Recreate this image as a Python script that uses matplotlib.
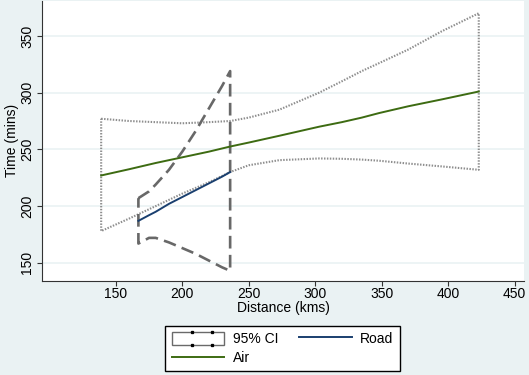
import numpy as np
import matplotlib.pyplot as plt
from matplotlib.patches import Patch, Rectangle
from matplotlib.lines import Line2D
from matplotlib.legend_handler import HandlerBase

plt.rcParams['font.family'] = ['Liberation Sans', 'DejaVu Sans']

# Air: fitted line and 95% CI
air_x = [139, 160, 180, 200, 220, 236, 250, 273, 303, 320, 335, 348, 370, 395, 423]
air_fit = [227, 232.5, 238, 243, 248, 252.5, 256, 262, 270, 274, 278, 282, 288, 294, 301]
air_hi = [277, 275, 274, 273, 274, 275, 278, 285, 300, 310, 319, 326, 338, 354, 370]
air_lo = [178, 189, 200, 211, 221, 230, 236, 240.5, 242, 241.7, 241, 240, 237.5, 235, 232]

# Road: fitted line and 95% CI
road_x = [167, 175, 180, 190, 200, 210, 220, 230, 236]
road_fit = [187, 192, 195, 202, 208, 214, 220, 226, 230]
road_hi = [207, 213, 219, 232, 248, 266, 286, 306, 319]
road_lo = [167, 172, 172, 168, 163, 158, 152, 146, 143]

bg = '#eaf2f3'
ci_grey = '#8e8e8e'
road_ci_grey = '#686868'
air_col = '#3d6b12'
road_col = '#1a3f6f'


class CIHandler(HandlerBase):
    def create_artists(self, legend, orig_handle, xd, yd, w, h, fontsize, trans):
        rect = Rectangle((-xd, -yd), w, h, facecolor='white', edgecolor='#6a6a6a',
                         linewidth=1.0, transform=trans)
        fx = [0.38, 0.76, 0.38, 0.76]
        fy = [1, 1, 0, 0]
        dots = Line2D([-xd + f * w for f in fx], [-yd + f * h for f in fy],
                      linestyle='none', marker='s', markersize=1.4,
                      color='black', transform=trans)
        return [rect, dots]


fig = plt.figure(figsize=(5.29, 3.75), dpi=100, facecolor=bg)
ax = fig.add_axes([0.0794, 0.2507, 0.9111, 0.7473])
ax.set_facecolor('white')

# closed CI outlines
ax.plot(air_x + air_x[::-1] + [air_x[0]], air_hi + air_lo[::-1] + [air_hi[0]],
        color=ci_grey, linestyle=(0, (0.7, 0.7)), linewidth=1.5)
ax.plot(road_x + road_x[::-1] + [road_x[0]], road_hi + road_lo[::-1] + [road_hi[0]],
        color=road_ci_grey, linestyle=(0, (4.8, 2.4)), linewidth=1.9)

ax.plot(air_x, air_fit, color=air_col, linewidth=1.4)
ax.plot(road_x, road_fit, color=road_col, linewidth=1.4)

ax.set_xlim(94.5, 457)
ax.set_ylim(134, 381)
ax.set_xticks([150, 200, 250, 300, 350, 400, 450])
ax.set_yticks([150, 200, 250, 300, 350])
ax.grid(axis='y', color=bg, linewidth=1.2)
ax.set_axisbelow(True)
for s in ['top', 'right']:
    ax.spines[s].set_visible(False)
for s in ['left', 'bottom']:
    ax.spines[s].set_color('#333333')
ax.tick_params(labelsize=10, length=3.5, color='#333333')
ax.tick_params(axis='x', pad=1)
ax.tick_params(axis='y', pad=2)
plt.setp(ax.get_yticklabels(), rotation=90, va='center')
ax.set_xlabel('Distance (kms)', fontsize=10, labelpad=0)
ax.set_ylabel('Time (mins)', fontsize=10, labelpad=1)

handles = [Patch(), Line2D([], [], color=air_col, linewidth=1.4),
           Line2D([], [], color=road_col, linewidth=1.4)]
leg = fig.legend(handles, ['95% CI', 'Air', 'Road'], ncol=2, loc='center',
                 bbox_to_anchor=(282.5 / 529, 1 - 348.5 / 375), fontsize=10,
                 frameon=True, fancybox=False, edgecolor='black', framealpha=1,
                 handlelength=3.8, handleheight=1.05, columnspacing=1.5,
                 labelspacing=0.35, borderpad=0.45, handletextpad=0.6,
                 handler_map={Patch: CIHandler()})
leg.get_frame().set_linewidth(1.0)

fig.savefig('out.png', dpi=100, facecolor=bg)
